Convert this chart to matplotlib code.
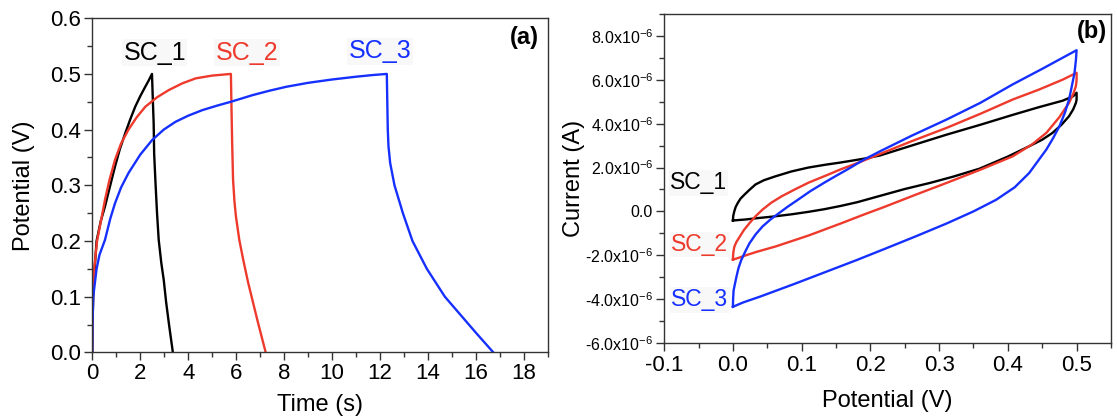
import matplotlib
matplotlib.use('Agg')
import matplotlib.pyplot as plt
from matplotlib.ticker import MultipleLocator, FuncFormatter

plt.rcParams['font.family'] = ['Liberation Sans', 'DejaVu Sans']
plt.rcParams['mathtext.fontset'] = 'custom'
plt.rcParams['mathtext.rm'] = 'Liberation Sans'
plt.rcParams['mathtext.it'] = 'Liberation Sans'

# ---- (a) galvanostatic charge / discharge ----
t_sc1 = [0, 0.01, 0.04, 0.1, 0.18, 0.35, 0.53, 0.75, 0.95, 1.15, 1.37, 1.58,
         1.79, 2.0, 2.21, 2.35, 2.49,
         2.52, 2.56, 2.58, 2.63, 2.7, 2.77, 2.88, 2.98, 3.08, 3.2, 3.36]
v_sc1 = [0, 0.05, 0.1, 0.15, 0.2, 0.235, 0.262, 0.3, 0.334, 0.365, 0.393,
         0.418, 0.441, 0.46, 0.477, 0.488, 0.5,
         0.46, 0.411, 0.357, 0.31, 0.25, 0.202, 0.16, 0.13, 0.09, 0.05, 0.0]

t_sc2 = [0, 0.005, 0.03, 0.08, 0.2, 0.38, 0.53, 0.72, 0.95, 1.2, 1.51, 1.85,
         2.21, 2.7, 3.19, 3.75, 4.31, 5.0, 5.78,
         5.8, 5.83, 5.87, 5.93, 5.99, 6.13, 6.3, 6.5, 6.7, 6.9, 7.05, 7.23]
v_sc2 = [0, 0.06, 0.1, 0.15, 0.2, 0.24, 0.274, 0.31, 0.346, 0.375, 0.4, 0.422,
         0.441, 0.458, 0.471, 0.483, 0.492, 0.497, 0.5,
         0.45, 0.38, 0.31, 0.27, 0.244, 0.202, 0.165, 0.125, 0.09, 0.055,
         0.03, 0.0]

t_sc3 = [0, 0.01, 0.04, 0.18, 0.3, 0.53, 0.75, 0.95, 1.2, 1.51, 2.0, 2.49,
         2.98, 3.47, 4.0, 4.59, 5.2, 5.78, 6.69, 7.4, 8.1, 9.0, 10.0, 11.0,
         11.7, 12.28,
         12.3, 12.32, 12.35, 12.42, 12.6, 12.95, 13.35, 13.95, 14.7, 15.3,
         16.0, 16.72]
v_sc3 = [0, 0.05, 0.1, 0.15, 0.175, 0.202, 0.24, 0.268, 0.296, 0.322, 0.355,
         0.381, 0.4, 0.414, 0.425, 0.435, 0.443, 0.45, 0.462, 0.47, 0.477,
         0.484, 0.49, 0.495, 0.498, 0.5,
         0.45, 0.4, 0.37, 0.34, 0.3, 0.25, 0.2, 0.15, 0.1, 0.07, 0.035, 0.0]

# ---- (b) cyclic voltammetry (current in 1e-6 A) ----
e_sc1 = [0, 0.0005, 0.002, 0.004, 0.007, 0.011, 0.017, 0.024, 0.033, 0.045,
         0.062, 0.085, 0.11, 0.135, 0.157, 0.19, 0.214, 0.265, 0.311, 0.36,
         0.407, 0.445, 0.48, 0.495, 0.5,
         0.5, 0.499, 0.495, 0.489, 0.478, 0.465, 0.45, 0.431, 0.4, 0.359,
         0.32, 0.287, 0.25, 0.22, 0.181, 0.157, 0.133, 0.11, 0.086, 0.06,
         0.038, 0.018, 0.0]
i_sc1 = [-0.415, -0.2, 0, 0.2, 0.38, 0.58, 0.77, 0.98, 1.23, 1.42, 1.6, 1.82,
         2.0, 2.13, 2.23, 2.4, 2.55, 3.05, 3.5, 3.95, 4.4, 4.75, 5.05, 5.25,
         5.41,
         5.1, 4.95, 4.65, 4.34, 3.95, 3.58, 3.27, 2.97, 2.5, 1.95, 1.58, 1.3,
         1.02, 0.76, 0.42, 0.25, 0.1, -0.02, -0.13, -0.23, -0.3, -0.37,
         -0.415]

e_sc2 = [0, 0.0005, 0.002, 0.005, 0.01, 0.016, 0.024, 0.033, 0.043, 0.056,
         0.071, 0.09, 0.11, 0.135, 0.157, 0.185, 0.214, 0.26, 0.311, 0.36,
         0.407, 0.445, 0.48, 0.5,
         0.5, 0.499, 0.495, 0.489, 0.475, 0.456, 0.435, 0.407, 0.36, 0.311,
         0.265, 0.22, 0.19, 0.157, 0.11, 0.062, 0.035, 0.019, 0.008, 0.0]
i_sc2 = [-2.2, -1.9, -1.62, -1.4, -1.15, -0.85, -0.54, -0.22, 0.08, 0.4,
         0.69, 1.0, 1.31, 1.63, 1.92, 2.25, 2.62, 3.2, 3.81, 4.45, 5.1, 5.55,
         6.01, 6.32,
         6.0, 5.71, 5.35, 4.95, 4.3, 3.58, 3.05, 2.51, 1.9, 1.3, 0.75, 0.2,
         -0.15, -0.55, -1.1, -1.6, -1.84, -2.0, -2.12, -2.2]

e_sc3 = [0, 0.0003, 0.001, 0.003, 0.005, 0.008, 0.012, 0.018, 0.024, 0.033,
         0.043, 0.055, 0.067, 0.08, 0.095, 0.113, 0.133, 0.15, 0.167, 0.19,
         0.214, 0.26, 0.311, 0.36, 0.407, 0.45, 0.5,
         0.499, 0.497, 0.493, 0.489, 0.483, 0.475, 0.466, 0.456, 0.431, 0.41,
         0.383, 0.35, 0.311, 0.265, 0.22, 0.18, 0.14, 0.09, 0.04, 0.015, 0.0]
i_sc3 = [-4.35, -4.0, -3.6, -3.3, -3.0, -2.6, -2.23, -1.83, -1.46, -1.05,
         -0.69, -0.36, -0.08, 0.22, 0.54, 0.93, 1.31, 1.62, 1.92, 2.35, 2.74,
         3.45, 4.19, 4.95, 5.79, 6.5, 7.35,
         6.9, 6.32, 5.7, 5.1, 4.5, 3.88, 3.35, 2.82, 1.75, 1.1, 0.53, 0.0,
         -0.55, -1.15, -1.72, -2.22, -2.7, -3.3, -3.88, -4.15, -4.35]

names = ['SC_1', 'SC_2', 'SC_3']
colors = ['#000000', '#ee3a2c', '#1530ff']

fig = plt.figure(figsize=(11.17, 4.19), dpi=100)
ax1 = fig.add_axes([0.0826, 0.159, 0.4080, 0.7975])
ax2 = fig.add_axes([0.5946, 0.1814, 0.4000, 0.7852])

for t, v, c in zip([t_sc1, t_sc2, t_sc3], [v_sc1, v_sc2, v_sc3], colors):
    ax1.plot(t, v, color=c, lw=1.7, solid_joinstyle='round')

for e, i, c in zip([e_sc1, e_sc2, e_sc3], [i_sc1, i_sc2, i_sc3], colors):
    ax2.plot(e, [x * 1e-6 for x in i], color=c, lw=1.7,
             solid_joinstyle='round')

for ax in (ax1, ax2):
    for s in ax.spines.values():
        s.set_color('#333333')
        s.set_linewidth(1.0)
    ax.tick_params(which='both', direction='out', color='#333333',
                   top=False, right=False)
    ax.tick_params(which='major', length=6, width=1.0)
    ax.tick_params(which='minor', length=3.5, width=1.0)

ax1.set_xlim(0, 19)
ax1.set_ylim(0, 0.6)
ax1.xaxis.set_major_locator(MultipleLocator(2))
ax1.xaxis.set_minor_locator(MultipleLocator(1))
ax1.yaxis.set_major_locator(MultipleLocator(0.1))
ax1.yaxis.set_minor_locator(MultipleLocator(0.05))
ax1.yaxis.set_major_formatter(FuncFormatter(lambda v, p: f'{v:.1f}'))
ax1.tick_params(labelsize=16, pad=2)
ax1.set_xlabel('Time (s)', fontsize=17, labelpad=7)
ax1.set_ylabel('Potential (V)', fontsize=17, labelpad=11)

label_pos_a = [(2.6, 0.538), (6.44, 0.538), (12.0, 0.541)]
for (x, y), n, c in zip(label_pos_a, names, colors):
    ax1.text(x, y, n, color=c, fontsize=18, ha='center', va='center',
             bbox=dict(facecolor='#f8f8f8', edgecolor='none', pad=1))
ax1.text(18.0, 0.566, '(a)', fontsize=17, fontweight='bold',
         ha='center', va='center')

ax2.set_xlim(-0.1, 0.55)
ax2.set_ylim(-6e-6, 9e-6)
ax2.xaxis.set_major_locator(MultipleLocator(0.1))
ax2.xaxis.set_minor_locator(MultipleLocator(0.05))
ax2.yaxis.set_major_locator(MultipleLocator(2e-6))
ax2.yaxis.set_minor_locator(MultipleLocator(1e-6))
ax2.xaxis.set_major_formatter(FuncFormatter(lambda v, p: f'{v:.1f}'))
ax2.yaxis.set_major_formatter(FuncFormatter(
    lambda v, p: '0.0' if abs(v) < 1e-12 else f'{v * 1e6:.1f}x10$^{{-6}}$'))
ax2.tick_params(axis='x', labelsize=16, pad=3)
ax2.tick_params(axis='y', labelsize=11.5, pad=2)
ax2.set_xlabel('Potential (V)', fontsize=17, labelpad=10)
ax2.set_ylabel('Current (A)', fontsize=17, labelpad=0)

label_pos_b = [(-0.05, 1.31e-6), (-0.048, -1.51e-6), (-0.048, -4.03e-6)]
for (x, y), n, c in zip(label_pos_b, names, colors):
    ax2.text(x, y, n, color=c, fontsize=16.5, ha='center', va='center',
             bbox=dict(facecolor='#f8f8f8', edgecolor='none', pad=1))
ax2.text(0.523, 8.22e-6, '(b)', fontsize=17, fontweight='bold',
         ha='center', va='center')

fig.savefig('out.png', dpi=100)
